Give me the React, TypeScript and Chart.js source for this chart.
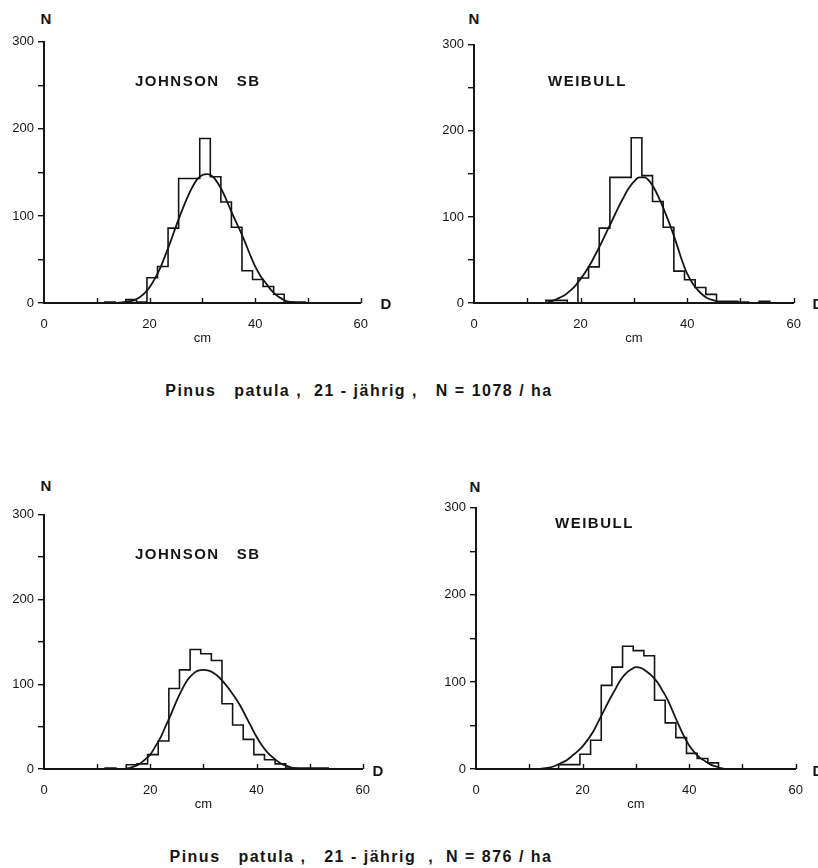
import React, { useEffect, useRef } from 'react';
import { Chart, registerables } from 'chart.js';

Chart.register(...registerables);

// ---- DATA ----
// lower edges of the 2-cm diameter classes (cm)
const classLower = [11.5, 13.5, 15.5, 17.5, 19.5, 21.5, 23.5, 25.5, 27.5, 29.5, 31.5, 33.5, 35.5, 37.5, 39.5, 41.5, 43.5, 45.5, 47.5, 49.5, 51.5, 53.5];
const classWidth = 2;

// observed stem numbers per class
const countsTopJohnson = [1, 0, 4, 1, 29, 42, 86, 143, 143, 189, 145, 116, 87, 37, 27, 19, 10, 1, 1, 0, 0, 0];
const countsTopWeibull = [0, 3, 3, 0, 29, 42, 87, 146, 146, 192, 148, 118, 88, 37, 27, 18, 10, 2, 2, 1, 0, 2];
const countsBottomJohnson = [1, 0, 5, 6, 17, 33, 95, 117, 141, 136, 128, 77, 52, 35, 17, 11, 6, 1, 1, 1, 1, 0];
const countsBottomWeibull = [0, 0, 5, 5, 17, 33, 96, 117, 141, 136, 130, 79, 53, 36, 18, 12, 7, 0, 0, 0, 0, 0];

// fitted curves, read at every cm
const curveD = [12, 13, 14, 15, 16, 17, 18, 19, 20, 21, 22, 23, 24, 25, 26, 27, 28, 29, 30, 31, 32, 33, 34, 35, 36, 37, 38, 39, 40, 41, 42, 43, 44, 45, 46, 47, 48];
const fitTopJohnson = [0, 0, 0, 1, 2, 3, 6, 11, 18, 28, 40, 55, 71, 88, 104, 119, 132, 142, 147, 148, 145, 137, 126, 112, 98, 85, 71, 56, 42, 31, 23, 15, 9, 5, 2, 1, 0];
const fitTopWeibull = [0, 0, 1, 3, 6, 9, 14, 20, 28, 37, 47, 59, 71, 84, 97, 110, 122, 133, 141, 146, 146, 141, 131, 118, 103, 87, 69, 50, 34, 23, 15, 9, 5, 3, 1, 0, 0];
const fitBottomJohnson = [0, 0, 0, 0, 1, 3, 6, 11, 17, 27, 38, 52, 66, 81, 94, 105, 112, 116, 117, 116, 113, 108, 101, 93, 84, 74, 62, 50, 38, 28, 20, 14, 9, 5, 3, 1, 0];
const fitBottomWeibull = [0, 1, 2, 4, 7, 10, 15, 20, 26, 34, 43, 55, 67, 79, 90, 101, 109, 114, 117, 116, 112, 107, 100, 90, 79, 65, 51, 38, 27, 19, 13, 9, 5, 3, 1, 0, 0];

const xTicksLabelled = [0, 20, 40, 60];
const yTicksLabelled = [0, 100, 200, 300];

const captionTop = 'Pinus   patula ,  21 - jährig ,   N = 1078 / ha';
const captionBottom = 'Pinus   patula ,   21 - jährig  ,  N = 876 / ha';

// ---- STYLE ----
const INK = '#151515';
const FONT = '"Liberation Sans", Arial, sans-serif';
const Y_AXIS_W = 43;
const X_AXIS_H = 47;
const PAD_T = 10;
const PAD_R = 20;

const innerTicks = {
  id: 'innerTicks',
  afterDraw(chart: any) {
    const s = chart.scales.x;
    const ctx = chart.ctx;
    ctx.save();
    ctx.strokeStyle = INK;
    ctx.lineWidth = 1.4;
    s.ticks.forEach((t: any) => {
      if (t.value === 0) return;
      const px = Math.round(s.getPixelForValue(t.value)) + 0.5;
      ctx.beginPath();
      ctx.moveTo(px, s.top);
      ctx.lineTo(px, s.top - 5);
      ctx.stroke();
    });
    ctx.restore();
  },
};

type Area = { left: number; right: number; top: number; bottom: number };

function Panel({ area, counts, fit }: { area: Area; counts: number[]; fit: number[] }) {
  const ref = useRef<HTMLCanvasElement | null>(null);
  const cLeft = Math.round(area.left) - Y_AXIS_W;
  const cTop = Math.round(area.top) - PAD_T;
  const cW = Math.round(area.right) + PAD_R - cLeft;
  const cH = Math.round(area.bottom) + X_AXIS_H - cTop;

  useEffect(() => {
    if (!ref.current) return;
    const hist: { x: number; y: number }[] = [{ x: classLower[0], y: 0 }];
    classLower.forEach((e, i) => hist.push({ x: e, y: counts[i] }));
    hist.push({ x: classLower[classLower.length - 1] + classWidth, y: 0 });
    const curve = curveD.map((d, i) => ({ x: d, y: fit[i] }));

    const chart = new Chart(ref.current, {
      type: 'line',
      data: {
        datasets: [
          {
            data: hist,
            stepped: 'before',
            borderColor: INK,
            borderWidth: 1.6,
            pointRadius: 0,
            fill: false,
          },
          {
            data: curve,
            borderColor: INK,
            borderWidth: 1.8,
            pointRadius: 0,
            fill: false,
            cubicInterpolationMode: 'monotone',
          },
        ],
      } as any,
      options: {
        animation: false,
        responsive: false,
        maintainAspectRatio: false,
        events: [],
        layout: { padding: { left: 0, top: PAD_T, right: PAD_R, bottom: 0 } },
        plugins: { legend: { display: false }, tooltip: { enabled: false } },
        scales: {
          x: {
            type: 'linear',
            min: 0,
            max: 60,
            afterFit: (s: any) => {
              s.height = X_AXIS_H;
            },
            ticks: {
              stepSize: 10,
              autoSkip: false,
              maxRotation: 0,
              padding: 14,
              color: INK,
              font: { family: FONT, size: 13 },
              callback: (v: any) => (xTicksLabelled.includes(Number(v)) ? String(v) : ''),
            },
            grid: { display: false, drawOnChartArea: false, drawTicks: false },
            border: { display: true, color: INK, width: 2 },
            title: {
              display: true,
              text: 'cm',
              color: INK,
              font: { family: FONT, size: 13 },
              padding: { top: 0, bottom: 4 },
            },
          },
          y: {
            type: 'linear',
            min: 0,
            max: 300,
            afterFit: (s: any) => {
              s.width = Y_AXIS_W;
            },
            ticks: {
              stepSize: 50,
              autoSkip: false,
              padding: 4,
              color: INK,
              font: { family: FONT, size: 13 },
              callback: (v: any) => (yTicksLabelled.includes(Number(v)) ? String(v) : ''),
            },
            grid: { display: true, drawOnChartArea: false, drawTicks: true, tickLength: 6, color: INK, lineWidth: 1.4 },
            border: { display: true, color: INK, width: 2 },
          },
        },
      } as any,
      plugins: [innerTicks],
    });
    return () => chart.destroy();
  }, []);

  return (
    <canvas
      ref={ref}
      width={cW}
      height={cH}
      style={{ position: 'absolute', left: cLeft, top: cTop, width: cW, height: cH }}
    />
  );
}

const abs = (x: number, y: number, extra: any = {}) => ({
  position: 'absolute' as const,
  left: x,
  top: y,
  whiteSpace: 'pre' as const,
  lineHeight: 1,
  color: INK,
  ...extra,
});

export default function App() {
  const centered = { transform: 'translate(-50%, -50%)' };
  const leftMid = { transform: 'translateY(-50%)' };
  const axisLetter = { fontSize: 15, fontWeight: 700 };
  const titleStyle = { fontSize: 15, fontWeight: 700, letterSpacing: '1.5px' };
  const capStyle = { fontSize: 16, fontWeight: 700, letterSpacing: '1.5px' };
  return (
    <div style={{ position: 'absolute', left: 0, top: 0, width: 818, height: 868, overflow: 'hidden', background: '#fff', fontFamily: FONT }}>
      <Panel area={{ left: 43.5, right: 362, top: 39.5, bottom: 303 }} counts={countsTopJohnson} fit={fitTopJohnson} />
      <Panel area={{ left: 473.5, right: 794.5, top: 42.5, bottom: 303 }} counts={countsTopWeibull} fit={fitTopWeibull} />
      <Panel area={{ left: 43.5, right: 364, top: 513, bottom: 769 }} counts={countsBottomJohnson} fit={fitBottomJohnson} />
      <Panel area={{ left: 475.5, right: 796.5, top: 506, bottom: 769 }} counts={countsBottomWeibull} fit={fitBottomWeibull} />

      <span style={abs(46, 18, { ...axisLetter, ...centered })}>N</span>
      <span style={abs(474, 18, { ...axisLetter, ...centered })}>N</span>
      <span style={abs(46, 485, { ...axisLetter, ...centered })}>N</span>
      <span style={abs(475, 486, { ...axisLetter, ...centered })}>N</span>

      <span style={abs(386, 303, { ...axisLetter, ...centered })}>D</span>
      <span style={abs(818, 303, { ...axisLetter, ...centered })}>D</span>
      <span style={abs(378, 770, { ...axisLetter, ...centered })}>D</span>
      <span style={abs(818, 770, { ...axisLetter, ...centered })}>D</span>

      <span style={abs(135, 80, { ...titleStyle, ...leftMid })}>{'JOHNSON   SB'}</span>
      <span style={abs(548, 80, { ...titleStyle, ...leftMid })}>WEIBULL</span>
      <span style={abs(135, 553, { ...titleStyle, ...leftMid })}>{'JOHNSON   SB'}</span>
      <span style={abs(555, 522, { ...titleStyle, ...leftMid })}>WEIBULL</span>

      <span style={abs(359, 391, { ...capStyle, ...centered })}>{captionTop}</span>
      <span style={abs(361, 857, { ...capStyle, ...centered })}>{captionBottom}</span>
    </div>
  );
}
